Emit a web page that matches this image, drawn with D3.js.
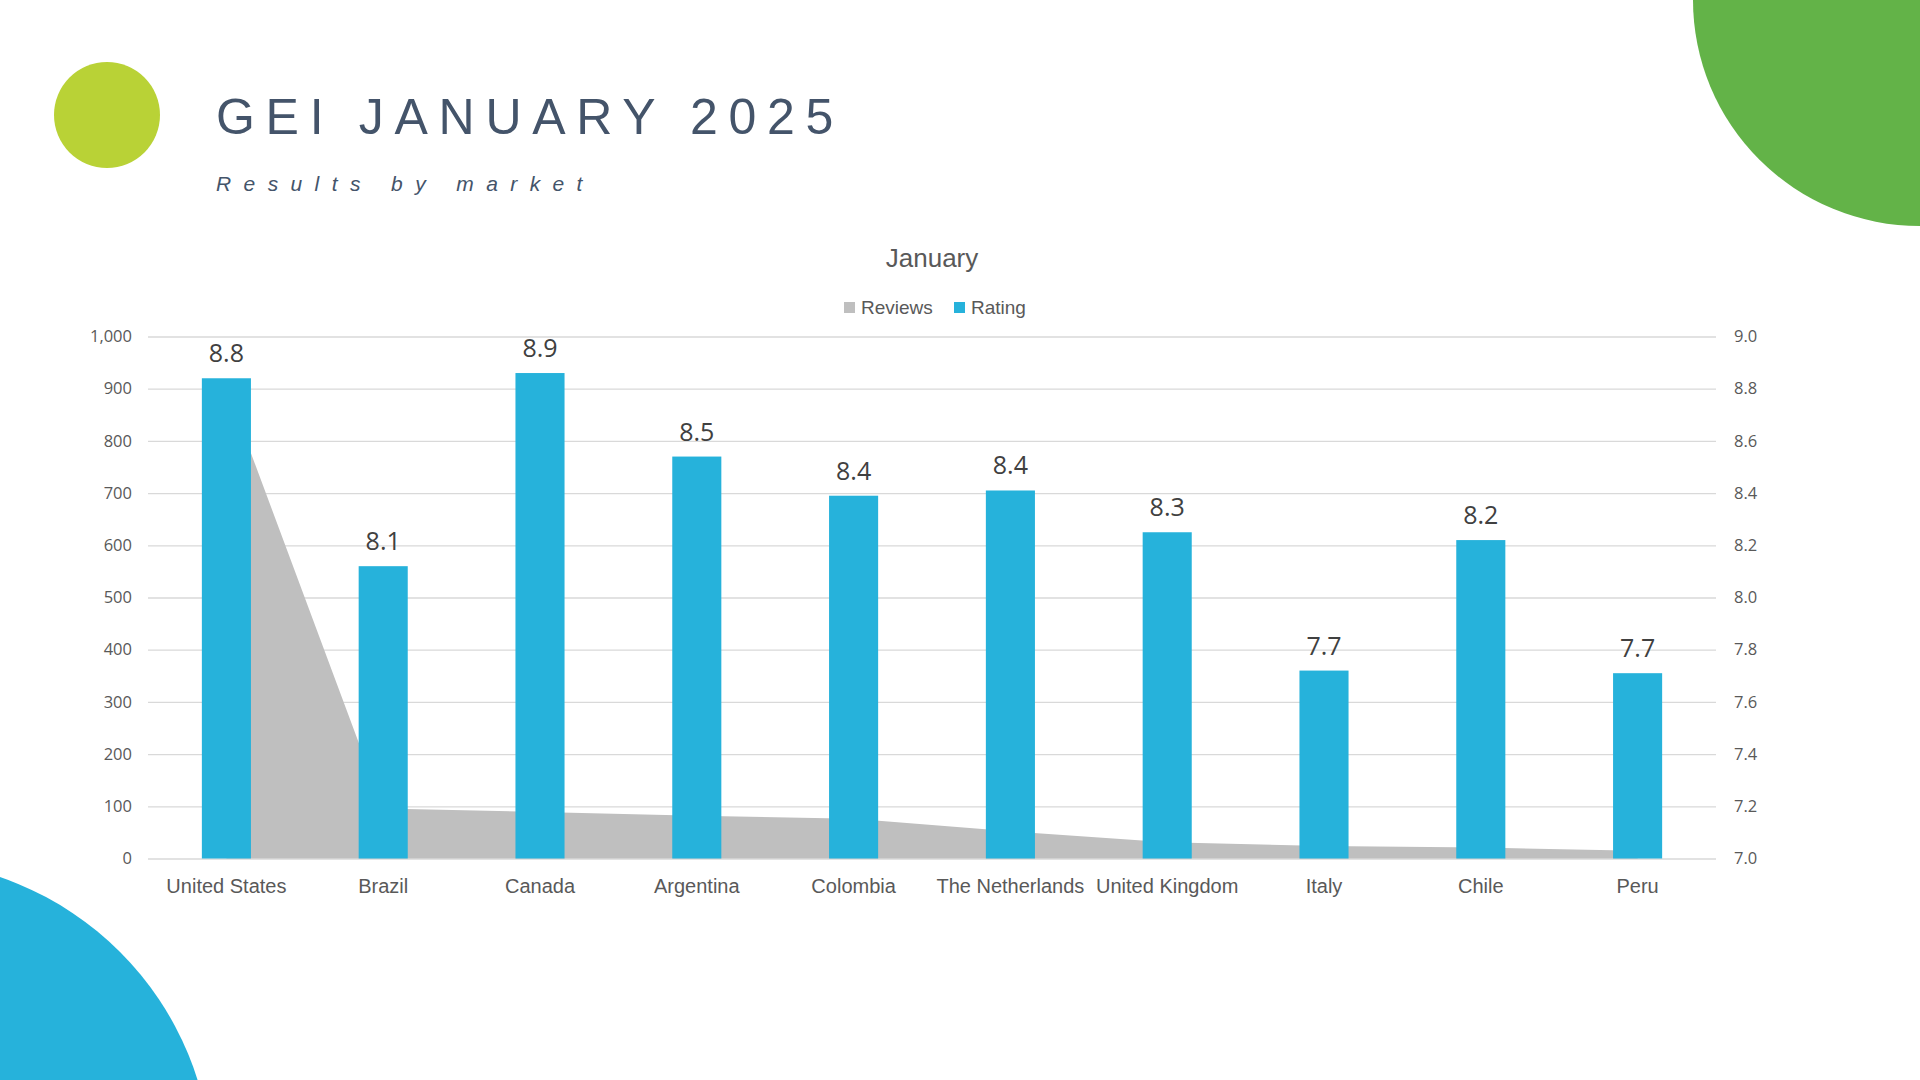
<!DOCTYPE html>
<html>
<head>
<meta charset="utf-8">
<script src="https://cdn.jsdelivr.net/npm/d3@7"></script>
<style>
    html, body { margin: 0; padding: 0; background: #ffffff; }
    svg { display: block; }
    .title { font-family: 'Liberation Sans', Arial, sans-serif; fill: #44546A; }
    .tick text { font-family: 'Open Sans', sans-serif; fill: #595959; }
    .x-axis .tick text { font-family: 'Liberation Sans', Arial, sans-serif; }
</style>
</head>
<body>
<div id="chart"></div>
<script>
const markets = ['United States', 'Brazil', 'Canada', 'Argentina', 'Colombia',
    'The Netherlands', 'United Kingdom', 'Italy', 'Chile', 'Peru'];
const reviews = [903, 96, 89, 82, 76, 52, 31, 24, 21, 15];
const ratings = [8.84, 8.12, 8.86, 8.54, 8.39, 8.41, 8.25, 7.72, 8.22, 7.71];
const reviewTicks = [0, 100, 200, 300, 400, 500, 600, 700, 800, 900, 1000];
const ratingTicks = [7.0, 7.2, 7.4, 7.6, 7.8, 8.0, 8.2, 8.4, 8.6, 8.8, 9.0];
const seriesNames = ['Reviews', 'Rating'];

let width = 1920;
let height = 1080;
let plot = { left: 148, right: 1716, top: 336.5, bottom: 858.5 };

let barColor = '#26B2DB';
let areaColor = '#BFBFBF';
let gridColor = '#D9D9D9';

let data = markets.map((m, i) => ({ market: m, reviews: reviews[i], rating: ratings[i] }));

let svg = d3.select('#chart')
    .append('svg')
    .attr('width', width)
    .attr('height', height)
    .attr('viewBox', `0 0 ${width} ${height}`);

// decorative shapes
svg.append('circle')
    .attr('cx', 107)
    .attr('cy', 115)
    .attr('r', 53)
    .attr('fill', '#B9D236');

svg.append('path')
    .attr('d', 'M 1693 0 A 227 226 0 0 0 1920 226 L 1920 0 Z')
    .attr('fill', '#63B348');

svg.append('circle')
    .attr('cx', -102)
    .attr('cy', 1174)
    .attr('r', 314)
    .attr('fill', barColor);

// heading
svg.append('text')
    .attr('class', 'title')
    .attr('x', 216)
    .attr('y', 134)
    .style('font-size', '50px')
    .style('letter-spacing', '10.7px')
    .text('GEI JANUARY 2025');

svg.append('text')
    .attr('class', 'title')
    .attr('x', 216)
    .attr('y', 191)
    .style('font-size', '21px')
    .style('font-style', 'italic')
    .style('letter-spacing', '12.4px')
    .text('Results by market');

// scales
let xScale = d3.scaleBand()
    .domain(markets)
    .range([plot.left, plot.right]);

let yLeft = d3.scaleLinear()
    .domain([0, 1000])
    .range([plot.bottom, plot.top]);

let yRight = d3.scaleLinear()
    .domain([7, 9])
    .range([plot.bottom, plot.top]);

let barWidth = xScale.bandwidth() * 0.313;
let center = d => xScale(d.market) + xScale.bandwidth() / 2;

// gridlines
svg.append('g')
    .attr('class', 'gridlines')
    .attr('transform', `translate(${plot.left}, 0)`)
    .call(d3.axisLeft(yLeft)
        .tickValues(reviewTicks)
        .tickFormat('')
        .tickSize(-(plot.right - plot.left)))
    .call(g => g.select('.domain').remove())
    .call(g => g.selectAll('line').attr('stroke', gridColor).attr('stroke-width', 1.3));

// axes
svg.append('g')
    .attr('class', 'y-axis')
    .attr('transform', `translate(${plot.left}, 0)`)
    .call(d3.axisLeft(yLeft)
        .tickValues(reviewTicks)
        .tickFormat(d3.format(','))
        .tickSize(0)
        .tickPadding(16))
    .call(g => g.select('.domain').remove())
    .call(g => g.selectAll('text').style('font-size', '16.5px'));

svg.append('g')
    .attr('class', 'y-axis-right')
    .attr('transform', `translate(${plot.right}, 0)`)
    .call(d3.axisRight(yRight)
        .tickValues(ratingTicks)
        .tickFormat(d3.format('.1f'))
        .tickSize(0)
        .tickPadding(18))
    .call(g => g.select('.domain').remove())
    .call(g => g.selectAll('text').style('font-size', '16.5px'));

svg.append('g')
    .attr('class', 'x-axis')
    .attr('transform', `translate(0, ${plot.bottom})`)
    .call(d3.axisBottom(xScale).tickSize(0).tickPadding(20))
    .call(g => g.select('.domain').remove())
    .call(g => g.selectAll('text').style('font-size', '20px'));

// reviews area
let area = d3.area()
    .x(center)
    .y0(yLeft(0))
    .y1(d => yLeft(d.reviews));

svg.append('path')
    .datum(data)
    .attr('d', area)
    .attr('fill', areaColor);

// rating bars
svg.append('g')
    .attr('class', 'bars')
    .selectAll('rect')
    .data(data)
    .join('rect')
    .attr('x', d => center(d) - barWidth / 2)
    .attr('y', d => yRight(d.rating))
    .attr('width', barWidth)
    .attr('height', d => yRight(7) - yRight(d.rating))
    .attr('fill', barColor);

svg.append('g')
    .attr('class', 'labels')
    .selectAll('text')
    .data(data)
    .join('text')
    .attr('x', center)
    .attr('y', d => yRight(d.rating) - 16)
    .attr('text-anchor', 'middle')
    .style('font-family', "'Open Sans', sans-serif")
    .style('font-size', '25px')
    .style('fill', '#404040')
    .text(d => d3.format('.1f')(d.rating));

// chart title and legend
let midX = (plot.left + plot.right) / 2;

svg.append('text')
    .attr('x', midX)
    .attr('y', 267)
    .attr('text-anchor', 'middle')
    .style('font-family', "'Liberation Sans', Arial, sans-serif")
    .style('font-size', '26px')
    .style('fill', '#595959')
    .text('January');

let legend = svg.append('g')
    .attr('class', 'legend')
    .attr('transform', 'translate(844, 302)');

let legendColors = [areaColor, barColor];
let legendOffsets = [0, 110];

seriesNames.forEach((name, i) => {
    let item = legend.append('g')
        .attr('transform', `translate(${legendOffsets[i]}, 0)`);
    item.append('rect')
        .attr('width', 11)
        .attr('height', 11)
        .attr('fill', legendColors[i]);
    item.append('text')
        .attr('x', 17)
        .attr('y', 12)
        .style('font-family', "'Liberation Sans', Arial, sans-serif")
        .style('font-size', '19px')
        .style('fill', '#595959')
        .text(name);
});
</script>
</body>
</html>
